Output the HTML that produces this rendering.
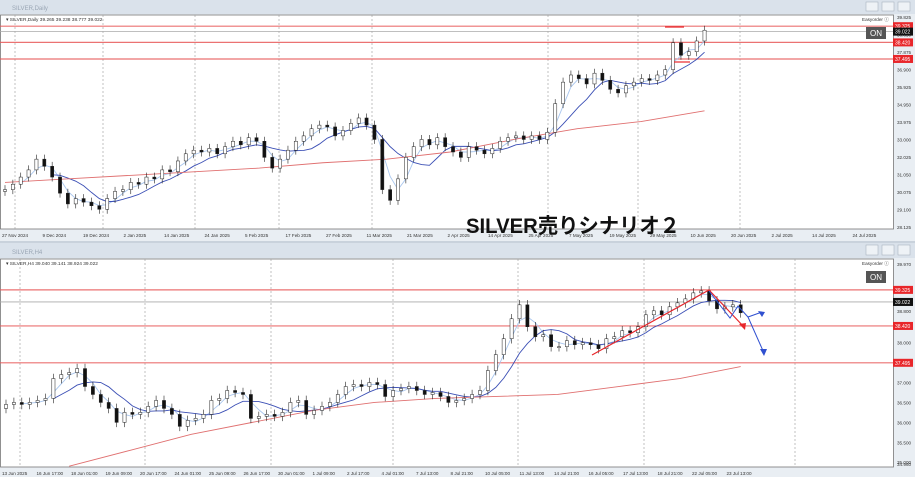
<!DOCTYPE html>
<html><head><meta charset="utf-8">
<style>
body{margin:0;width:915px;height:477px;overflow:hidden;background:#fff;font-family:"Liberation Sans",sans-serif;}
svg{display:block}
</style></head><body>
<svg id="c" width="915" height="477" xmlns="http://www.w3.org/2000/svg"></svg>
<script>
// ---- top daily chart data ----
const topDates=["27 Nov 2024","9 Dec 2024","19 Dec 2024","2 Jan 2025","14 Jan 2025","24 Jan 2025","5 Feb 2025","17 Feb 2025","27 Feb 2025","11 Mar 2025","21 Mar 2025","2 Apr 2025","14 Apr 2025","25 Apr 2025","7 May 2025","19 May 2025","29 May 2025","10 Jun 2025","20 Jun 2025","2 Jul 2025","14 Jul 2025","24 Jul 2025"];
const topTicks=["39.825","38.850","37.875","36.900","35.925","34.950","33.975","33.000","32.025","31.050","30.075","29.100","28.125"];
const topCloses=[30.2,30.5,30.9,31.3,31.9,31.5,30.9,30.0,29.4,29.7,29.5,29.3,29.1,29.7,30.1,30.2,30.6,30.5,30.9,30.8,31.3,31.2,31.8,32.2,32.4,32.3,32.5,32.2,32.6,32.9,32.7,33.1,32.9,32.0,31.4,31.9,32.4,32.9,33.2,33.6,33.8,33.7,33.2,33.5,33.9,34.2,33.8,33.0,30.2,29.6,30.8,32.0,32.6,33.0,32.7,33.1,32.6,32.3,32.0,32.6,32.4,32.2,32.5,32.9,33.1,33.2,33.0,33.2,33.0,33.4,35.0,36.2,36.6,36.4,36.1,36.7,36.3,35.8,35.6,36.0,36.2,36.4,36.3,36.6,36.9,38.4,37.7,37.9,38.5,39.1];
const topRedMA=[30.6,30.8,31.0,31.2,31.4,31.7,31.9,32.3,33.0,33.6,34.0,34.6];
const topLevels=["39.325","38.420","37.495"];
const topCurrent="39.022";
// ---- bottom H4 chart data ----
const botDates=["13 Jun 2025","16 Jun 17:00","18 Jun 01:00","19 Jun 09:00","20 Jun 17:00","24 Jun 01:00","25 Jun 09:00","26 Jun 17:00","30 Jun 01:00","1 Jul 09:00","2 Jul 17:00","4 Jul 01:00","7 Jul 13:00","8 Jul 21:00","10 Jul 05:00","11 Jul 13:00","14 Jul 21:00","16 Jul 05:00","17 Jul 13:00","18 Jul 21:00","22 Jul 05:00","23 Jul 13:00"];
const botTicks=["39.970","39.325","38.800","38.420","38.000","37.495","37.000","36.500","36.000","35.500","35.000","34.960"];
const botCloses=[36.45,36.5,36.45,36.5,36.55,36.6,37.1,37.2,37.25,37.35,36.9,36.7,36.5,36.35,36.0,36.25,36.2,36.25,36.4,36.55,36.35,36.2,35.9,36.05,36.1,36.2,36.55,36.6,36.8,36.75,36.7,36.1,36.15,36.2,36.15,36.25,36.5,36.55,36.2,36.3,36.4,36.5,36.7,36.9,36.95,36.9,37.0,36.95,36.65,36.8,36.85,36.9,36.8,36.7,36.75,36.65,36.5,36.55,36.6,36.7,36.8,37.3,37.7,38.1,38.6,38.95,38.4,38.15,38.2,37.9,37.9,38.05,37.95,38.0,37.95,37.85,38.1,38.15,38.3,38.25,38.4,38.7,38.8,38.7,38.9,39.0,39.1,39.25,39.3,39.05,38.85,38.9,38.95,38.75];
const botRedMA=[34.9,35.3,35.7,36.0,36.3,36.5,36.6,36.65,36.7,36.9,37.1,37.4];
const botLevels=["39.325","38.420","37.495"];
const botCurrent="39.022";

const NS="http://www.w3.org/2000/svg";
const svg=document.getElementById('c');
function mk(t,a,p){const e=document.createElementNS(NS,t);for(const k in a)e.setAttribute(k,a[k]);(p||svg).appendChild(e);return e;}
function sma(a,n){return a.map((v,i)=>{if(i<n-1)return null;let s=0;for(let j=i-n+1;j<=i;j++)s+=a[j];return s/n;});}

function panel(o){
  const g=mk('g',{});
  
  
  const tb=mk('rect',{x:0,y:o.tbY,width:915,height:o.tbH,fill:'#dae2eb'},g);
  
  const tt=mk('text',{x:12,y:o.tbY+o.tbH-4,'font-size':6,fill:'#9aa6b4'},g);tt.textContent=o.title;
  
  for(let i=0;i<3;i++){const b=mk('rect',{x:866+i*16,y:o.tbY+2,width:12,height:o.tbH-5,fill:'#eef2f6',stroke:'#aab4c0','stroke-width':0.6},g);
    }
  mk('rect',{x:0.5,y:o.top,width:893,height:o.bot-o.top,fill:'#fff',stroke:'#777','stroke-width':0.8},g);
  const yOf=p=>o.bot-(p-o.pmin)/(o.pmax-o.pmin)*(o.bot-o.top);
  const xOf=i=>o.x0+i*o.dx;
  o.grid.forEach(gx=>{mk('line',{x1:gx,y1:o.top,x2:gx,y2:o.bot,stroke:'#999','stroke-width':0.6,'stroke-dasharray':'2,2'},g);});
  o.dates.forEach((d,k)=>{const t=mk('text',{x:2+k*o.dateStep,y:o.bot+8,'font-size':4.6,fill:'#333'},g);t.textContent=d;
    });
  o.ticks.forEach(s=>{const p=parseFloat(s);const y=yOf(p);if(y<o.top||y>o.bot+2)return;
    const t=mk('text',{x:897,y:y+2,'font-size':4.6,fill:'#333'},g);t.textContent=s;
    });
  o.levels.forEach(s=>{const y=yOf(parseFloat(s));
    mk('line',{x1:0,y1:y,x2:893,y2:y,stroke:'#e85a5a','stroke-width':1.2,opacity:0.85},g);
    const r=mk('rect',{x:893,y:y-4,width:20,height:8,fill:'#e8262a'},g);
    const t=mk('text',{x:895,y:y+2,'font-size':5,fill:'#fff'},g);t.textContent=s;});
  const cy=yOf(parseFloat(o.current));
  mk('line',{x1:0,y1:cy,x2:893,y2:cy,stroke:'#aaa','stroke-width':0.8},g);
  mk('rect',{x:893,y:cy-4,width:20,height:8,fill:'#111'},g);
  const ct=mk('text',{x:895,y:cy+2,'font-size':5,fill:'#fff'},g);ct.textContent=o.current;
  
  const cl=o.closes;
  [[sma(cl,3),'#a9c6ee'],[sma(cl,7),'#3b4fb5']].forEach(([m,c])=>{
    const pts=m.map((v,i)=>v==null?null:xOf(i)+','+yOf(v)).filter(Boolean).join(' ');
    const l=mk('polyline',{points:pts,fill:'none',stroke:c,'stroke-width':0.9},g);
    });
  const rStep=(cl.length-1-o.redStart)/(o.red.length-1);
  const rp=o.red.map((v,i)=>xOf(o.redStart+i*rStep)+','+yOf(v)).join(' ');
  const rl=mk('polyline',{points:rp,fill:'none',stroke:'#e07070','stroke-width':0.9},g);
  
  cl.forEach((c,i)=>{const op=i?cl[i-1]:c-0.1;const hi=Math.max(op,c)+o.wick,lo=Math.min(op,c)-o.wick;const x=xOf(i);
    mk('line',{x1:x,y1:yOf(hi),x2:x,y2:yOf(lo),stroke:'#222','stroke-width':0.6},g);
    const top=yOf(Math.max(op,c)),h=Math.max(1,yOf(Math.min(op,c))-top);
    const b=mk('rect',{x:x-1.6,y:top,width:3.2,height:h,fill:c>=op?'#fff':'#111',stroke:'#222','stroke-width':0.5},g);
    });
  const h=mk('text',{x:6,y:o.top+6,'font-size':4.8,fill:'#333'},g);h.textContent=o.header;
  
  const ez=mk('text',{x:862,y:o.top+6,'font-size':4.6,fill:'#333'},g);ez.textContent='Easyorder ⓘ';
  const on=mk('rect',{x:866,y:o.onY,width:20,height:12,fill:'#555'},g);
  const ot=mk('text',{x:870,y:o.onY+9,'font-size':8,fill:'#fff'},g);ot.textContent='ON';
  return {xOf,yOf};
}
mk('rect',{x:0,y:0,width:915,height:477,fill:'#e9eef3'});
panel({name:'daily-chart',title:'SILVER,Daily',tbY:0,tbH:14,top:15,bot:229,pmin:28.0,pmax:39.95,x0:5,dx:7.86,
  closes:topCloses,red:topRedMA,redStart:0,wick:0.25,levels:topLevels,current:topCurrent,ticks:topTicks,
  grid:[15,103,195,279,372,548,638,740],dates:topDates,dateStep:40.5,header:'▾ SILVER,Daily  39.265 39.238 38.777 39.022',onY:27});
panel({name:'h4-chart',title:'SILVER,H4',tbY:243,tbH:15,top:259,bot:467,pmin:34.88,pmax:40.1,x0:6,dx:7.9,
  closes:botCloses,red:botRedMA,redStart:8,wick:0.12,levels:botLevels,current:botCurrent,ticks:botTicks,
  grid:[20,145,271,393,518,644,795],dates:botDates,dateStep:34.5,header:'▾ SILVER,H4  39.040 39.141 38.924 39.022',onY:271});
mk('rect',{x:0,y:241,width:915,height:2,fill:'#c9d2dc'});
const ann=mk('g',{});
mk('line',{x1:665,y1:27,x2:684,y2:27,stroke:'#e8262a','stroke-width':1.2},ann);
mk('line',{x1:674,y1:62,x2:690,y2:62,stroke:'#e8262a','stroke-width':1.2},ann);
mk('polyline',{points:'592,355 709,290 744,327',fill:'none',stroke:'#e8262a','stroke-width':1.2},ann);
mk('polyline',{points:'709,291 730,318 738,306 748,317 762,312',fill:'none',stroke:'#3050d0','stroke-width':1},ann);
mk('polyline',{points:'748,317 764,353',fill:'none',stroke:'#3050d0','stroke-width':1},ann);
mk('polygon',{points:'764,356 760,349 767,349',fill:'#3050d0'},ann);
mk('polygon',{points:'765,312 758,311 762,317',fill:'#3050d0'},ann);
mk('polygon',{points:'745,330 739,324 746,323',fill:'#e8262a'},ann);
const tt=mk('text',{x:466,y:233,'font-size':21,'font-weight':'bold',fill:'#111',textLength:214,lengthAdjust:'spacingAndGlyphs','font-family':'"Liberation Sans","Noto Sans CJK JP",sans-serif'});
tt.textContent='SILVER売りシナリオ２';

</script>
</body></html>
